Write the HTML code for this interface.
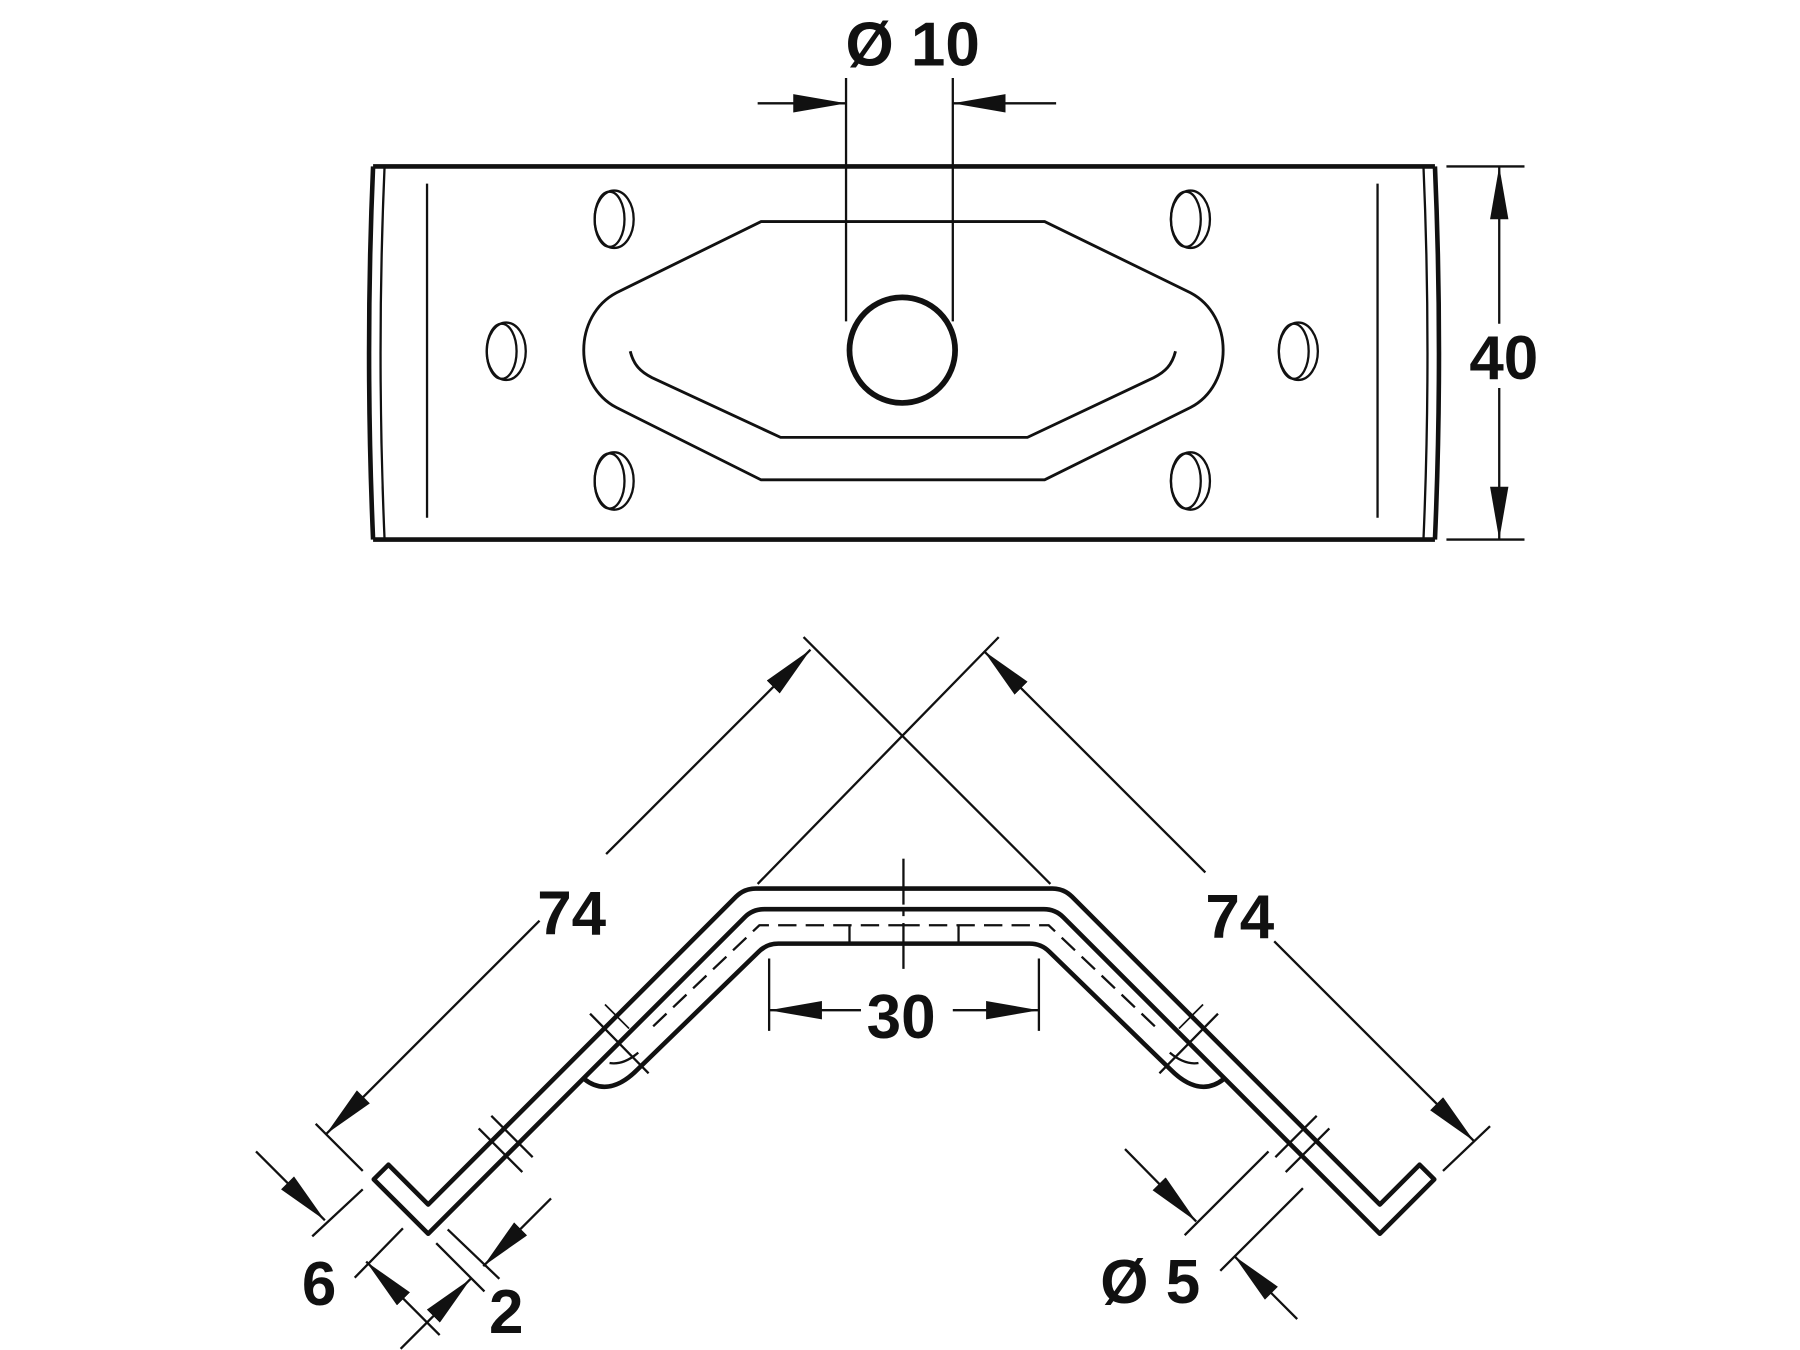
<!DOCTYPE html>
<html><head><meta charset="utf-8"><style>
html,body{margin:0;padding:0;background:#fff;}
svg{display:block;}
text{font-family:"Liberation Sans",sans-serif;font-weight:bold;fill:#111;}
</style></head><body>
<svg width="1800" height="1350" viewBox="0 0 1568 1176" preserveAspectRatio="none" xmlns="http://www.w3.org/2000/svg">
<defs>
<marker id="a" markerUnits="userSpaceOnUse" viewBox="0 0 46 16" refX="46" refY="8" markerWidth="46" markerHeight="16" orient="auto"><path d="M0,0 L46,8 L0,16 Z" fill="#111"/></marker>
</defs>
<rect width="1568" height="1176" fill="#fff"/>
<g stroke="#111" fill="none">
<!-- plate -->
<line x1="325" y1="145" x2="1250" y2="145" stroke-width="4"/>
<line x1="325" y1="470" x2="1250" y2="470" stroke-width="4"/>
<path d="M325,145 Q318,307 325,470" stroke-width="4"/>
<path d="M335,145 Q328,307 335,470" stroke-width="2"/>
<path d="M1250,145 Q1257,307 1250,470" stroke-width="4"/>
<path d="M1240,145 Q1247,307 1240,470" stroke-width="2"/>
<line x1="372" y1="160" x2="372" y2="451" stroke-width="2"/>
<line x1="1200" y1="160" x2="1200" y2="451" stroke-width="2"/>
<!-- holes -->
<g stroke-width="2">
<ellipse cx="535" cy="191" rx="17" ry="25"/><ellipse cx="531" cy="191" rx="13" ry="24"/>
<ellipse cx="1037" cy="191" rx="17" ry="25"/><ellipse cx="1033" cy="191" rx="13" ry="24"/>
<ellipse cx="535" cy="419" rx="17" ry="25"/><ellipse cx="531" cy="419" rx="13" ry="24"/>
<ellipse cx="1037" cy="419" rx="17" ry="25"/><ellipse cx="1033" cy="419" rx="13" ry="24"/>
<ellipse cx="441" cy="306" rx="17" ry="25"/><ellipse cx="437" cy="306" rx="13" ry="24"/>
<ellipse cx="1131" cy="306" rx="17" ry="25"/><ellipse cx="1127" cy="306" rx="13" ry="24"/>
</g>
<path d="M663,193 L910,193 L1037,255 C1075,275 1075,335 1037,355 L910,418 L663,418 L537,355 C499,335 499,275 537,255 Z" stroke-width="2.5"/>
<path d="M549,306 C552,318 558,324 568,329 L680,381 L895,381 L1005,329 C1015,324 1021,318 1024,306" stroke-width="2.5"/>
<circle cx="786" cy="305" r="46" stroke-width="5"/>
<!-- dims top -->
<line x1="737" y1="68" x2="737" y2="280" stroke-width="2"/>
<line x1="830" y1="68" x2="830" y2="280" stroke-width="2"/>
<line x1="660" y1="90" x2="737" y2="90" stroke-width="2" marker-end="url(#a)"/>
<line x1="920" y1="90" x2="830" y2="90" stroke-width="2" marker-end="url(#a)"/>
<line x1="1260" y1="145" x2="1328" y2="145" stroke-width="2"/>
<line x1="1260" y1="470" x2="1328" y2="470" stroke-width="2"/>
<line x1="1306" y1="282" x2="1306" y2="145" stroke-width="2" marker-end="url(#a)"/>
<line x1="1306" y1="338" x2="1306" y2="470" stroke-width="2" marker-end="url(#a)"/>

<!-- bracket -->
<path d="M338.4,1014.6 L373,1049.3 L641.2,781.1 Q648.3,774 658.3,774 L916.7,774 Q926.7,774 933.8,781.1 L1202,1049.3 L1236.6,1014.6 L1249.4,1027.4 L1202,1074.7 L926.4,799.1 Q919.3,792 909.3,792 L665.7,792 Q655.7,792 648.6,799.1 L373,1074.7 L325.6,1027.4 Z" stroke-width="4" stroke-linejoin="round"/>
<line x1="787" y1="748" x2="787" y2="845" stroke-width="2" stroke-dasharray="40 6 4 6"/>
<line x1="740" y1="806" x2="740" y2="822" stroke-width="2"/>
<line x1="835" y1="806" x2="835" y2="822" stroke-width="2"/>
<g id="half">
<path d="M569,894 L661.5,806 L787.5,806" stroke-width="2" stroke-dasharray="16 8"/>
<path d="M787.5,822 L678,822 Q668,822 661,829 L555,932 C540,947 524,952 509,940" stroke-width="4" stroke-linejoin="round"/>
<path d="M531,926 Q543,928 556,917" stroke-width="2"/>
<line x1="514" y1="883" x2="565" y2="935" stroke-width="2"/>
<line x1="527" y1="875" x2="548" y2="896" stroke-width="1.5"/>
<line x1="417" y1="983" x2="455" y2="1021" stroke-width="2"/>
<line x1="428" y1="972" x2="464" y2="1008" stroke-width="2"/>
</g>
<use href="#half" transform="translate(1575,0) scale(-1,1)"/>

<!-- 74 dims -->
<line x1="700" y1="555" x2="915" y2="770" stroke-width="2"/>
<line x1="870" y1="555" x2="660" y2="770" stroke-width="2"/>
<line x1="470" y1="802" x2="284" y2="988" stroke-width="2" marker-end="url(#a)"/>
<line x1="528" y1="744" x2="706" y2="566" stroke-width="2" marker-end="url(#a)"/>
<line x1="275" y1="979" x2="316" y2="1020" stroke-width="2"/>
<line x1="1050" y1="760" x2="857" y2="567" stroke-width="2" marker-end="url(#a)"/>
<line x1="1110" y1="820" x2="1284" y2="994" stroke-width="2" marker-end="url(#a)"/>
<line x1="1298" y1="981" x2="1257" y2="1020" stroke-width="2"/>
<!-- 30 -->
<line x1="670" y1="835" x2="670" y2="898" stroke-width="2"/>
<line x1="905" y1="835" x2="905" y2="898" stroke-width="2"/>
<line x1="750" y1="880" x2="670" y2="880" stroke-width="2" marker-end="url(#a)"/>
<line x1="830" y1="880" x2="905" y2="880" stroke-width="2" marker-end="url(#a)"/>
<!-- 6 -->
<line x1="272" y1="1077" x2="316" y2="1036" stroke-width="2"/>
<line x1="309" y1="1113" x2="351" y2="1070" stroke-width="2"/>
<line x1="223" y1="1003" x2="283" y2="1063" stroke-width="2" marker-end="url(#a)"/>
<line x1="383" y1="1163" x2="319" y2="1099" stroke-width="2" marker-end="url(#a)"/>
<!-- 2 -->
<line x1="380" y1="1083" x2="422" y2="1125" stroke-width="2"/>
<line x1="390" y1="1071" x2="435" y2="1114" stroke-width="2"/>
<line x1="480" y1="1044" x2="421" y2="1103" stroke-width="2" marker-end="url(#a)"/>
<line x1="349" y1="1175" x2="410" y2="1114" stroke-width="2" marker-end="url(#a)"/>
<!-- Ø5 -->
<line x1="1032" y1="1076" x2="1105" y2="1003" stroke-width="2"/>
<line x1="1063" y1="1107" x2="1135" y2="1035" stroke-width="2"/>
<line x1="980" y1="1001" x2="1042" y2="1064" stroke-width="2" marker-end="url(#a)"/>
<line x1="1130" y1="1149" x2="1075" y2="1094" stroke-width="2" marker-end="url(#a)"/>
</g>
<g font-size="54">
<text x="795" y="57" text-anchor="middle">Ø 10</text>
<text x="1310" y="330" text-anchor="middle">40</text>
<text x="498" y="814" text-anchor="middle">74</text>
<text x="1080" y="817" text-anchor="middle">74</text>
<text x="785" y="904" text-anchor="middle">30</text>
<text x="278" y="1137" text-anchor="middle">6</text>
<text x="441" y="1161" text-anchor="middle">2</text>
<text x="1002" y="1135" text-anchor="middle">Ø 5</text>
</g>
</svg>
</body></html>
